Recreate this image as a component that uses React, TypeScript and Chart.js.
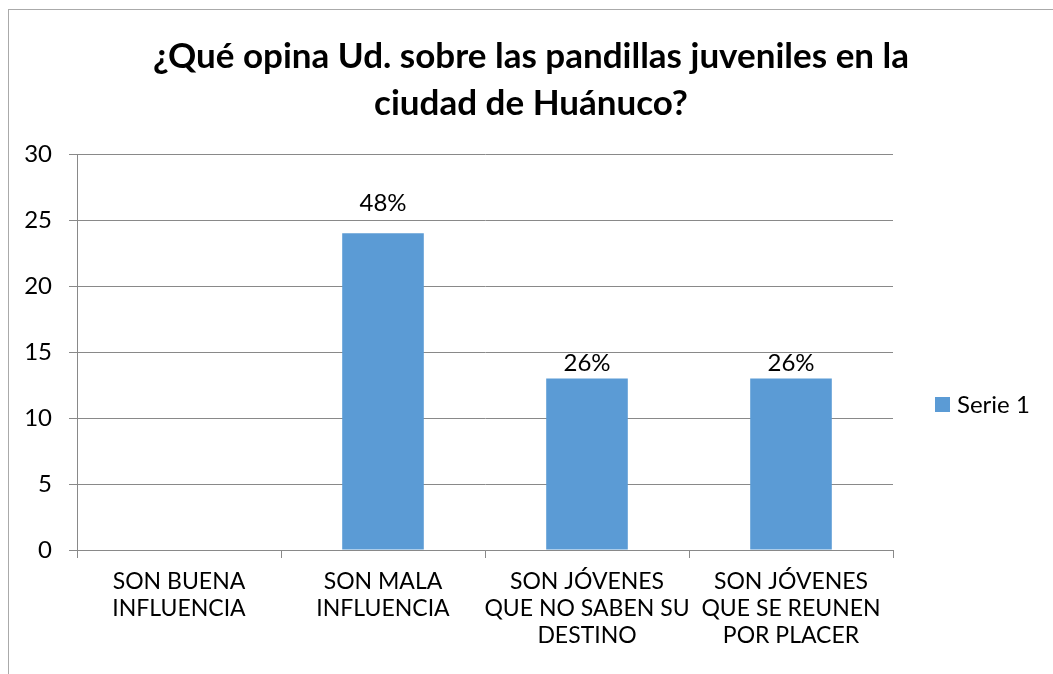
import React, { useEffect, useRef } from "react";
import { Chart, registerables } from "chart.js";

Chart.register(...registerables);

const categories: string[][] = [
  ["SON BUENA", "INFLUENCIA"],
  ["SON MALA", "INFLUENCIA"],
  ["SON JÓVENES", "QUE NO SABEN SU", "DESTINO"],
  ["SON JÓVENES", "QUE SE REUNEN", "POR PLACER"],
];
const serieValues: number[] = [0, 24, 13, 13];
const percentLabels: string[] = ["", "48%", "26%", "26%"];
const seriesName = "Serie 1";
const titleLines: string[] = [
  "¿Qué opina Ud. sobre las pandillas juveniles en la",
  "ciudad de Huánuco?",
];
const yTicks = { min: 0, max: 30, step: 5 };

const FONT = "Lato, 'Open Sans', sans-serif";
const BAR = "#5B9BD5";
const GRID = "#898989";

const labelPlugin = {
  id: "pctLabels",
  afterDatasetsDraw(chart: any, _args: any, opts: any) {
    const ctx = chart.ctx;
    const meta = chart.getDatasetMeta(0);
    ctx.save();
    ctx.font = `24px ${FONT}`;
    ctx.fillStyle = "#000";
    ctx.textAlign = "center";
    ctx.textBaseline = "bottom";
    meta.data.forEach((el: any, i: number) => {
      const t = percentLabels[i];
      if (!t) return;
      const off = (opts.offsets && opts.offsets[i]) || 3;
      ctx.fillText(t, el.x, el.y - off);
    });
    ctx.restore();
  },
};

const legendPlugin = {
  id: "sideLegend",
  afterDraw(chart: any) {
    const ctx = chart.ctx;
    const area = chart.chartArea;
    const ds = chart.data.datasets[0];
    const x = area.right + 42;
    const y = area.top + 243;
    ctx.save();
    ctx.fillStyle = ds.backgroundColor;
    ctx.fillRect(x, y, 15, 15);
    ctx.fillStyle = "#000";
    ctx.font = `24px ${FONT}`;
    ctx.textAlign = "left";
    ctx.textBaseline = "middle";
    ctx.fillText(ds.label, x + 22, y + 8);
    ctx.restore();
  },
};

export default function App() {
  const ref = useRef<HTMLCanvasElement | null>(null);

  useEffect(() => {
    if (!ref.current) return;
    const chart = new Chart(ref.current, {
      type: "bar",
      data: {
        labels: categories,
        datasets: [
          {
            label: seriesName,
            data: serieValues,
            backgroundColor: BAR,
            borderWidth: 0,
            categoryPercentage: 1,
            barPercentage: 0.4,
          },
        ],
      },
      options: {
        animation: false,
        responsive: false,
        devicePixelRatio: 1,
        layout: { padding: 0 },
        plugins: {
          legend: { display: false },
          tooltip: { enabled: false },
          title: {
            display: true,
            text: titleLines,
            color: "#000",
            font: { family: FONT, size: 35, weight: "bold", lineHeight: "47px" },
            padding: { top: 23, bottom: 27 },
          },
          pctLabels: { offsets: [3, 18, 3, 3] },
        } as any,
        scales: {
          x: {
            afterFit(scale: any) {
              scale.height = 124;
            },
            grid: {
              offset: true,
              drawOnChartArea: false,
              drawTicks: true,
              tickLength: 8,
              color: GRID,
            },
            border: { color: GRID, width: 1 },
            ticks: {
              color: "#000",
              padding: 10,
              maxRotation: 0,
              autoSkip: false,
              font: { family: FONT, size: 23, lineHeight: "27px" },
            },
          },
          y: {
            min: yTicks.min,
            max: yTicks.max,
            afterFit(scale: any) {
              scale.width = 68;
            },
            grid: {
              color: GRID,
              drawTicks: true,
              tickLength: 8,
            },
            border: { color: GRID, width: 1 },
            ticks: {
              stepSize: yTicks.step,
              color: "#000",
              padding: 17,
              font: { family: FONT, size: 24 },
            },
          },
          legendSpace: {
            type: "linear",
            position: "right",
            display: true,
            afterFit(scale: any) {
              scale.width = 160;
            },
            grid: { display: false, drawTicks: false },
            border: { display: false },
            ticks: { display: false },
          },
        } as any,
      },
      plugins: [labelPlugin, legendPlugin],
    });
    return () => chart.destroy();
  }, []);

  return (
    <div
      style={{
        position: "fixed",
        left: 8,
        top: 9,
        width: 1045,
        height: 665,
        borderLeft: "1px solid #aaaaaa",
        borderTop: "1px solid #aaaaaa",
        background: "#fff",
        boxSizing: "border-box",
      }}
    >
      <canvas ref={ref} width={1044} height={664} style={{ display: "block" }} />
    </div>
  );
}
